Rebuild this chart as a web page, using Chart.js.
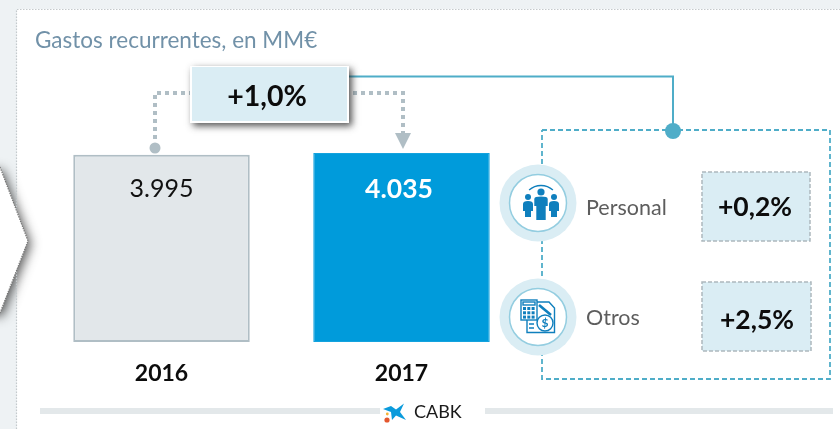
<!DOCTYPE html>
<html lang="es">
<head>
    <meta charset="UTF-8">
    <title>Gastos recurrentes</title>
    <script src="https://cdn.jsdelivr.net/npm/chart.js"></script>
    <style>
        html, body { margin: 0; padding: 0; background: #fff; }
        #wrap { position: relative; width: 840px; height: 429px; overflow: hidden; }
    </style>
</head>
<body>
    <div id="wrap"><canvas id="gastos" width="840" height="429"></canvas></div>
    <script>
        const years = ['2016', '2017'];
        const gastos = [3995, 4035];
        const gastosText = ['3.995', '4.035'];
        const title = 'Gastos recurrentes, en MM€';
        const totalChange = '+1,0%';
        const breakdownNames = ['Personal', 'Otros'];
        const breakdownChanges = ['+0,2%', '+2,5%'];

        const FONT = 'Lato, sans-serif';
        const TEAL = '#4fadc8';
        const PALE = '#daedf4';
        const GREY = '#b0bec5';
        const ICON = '#0f7fbd';

        function text(ctx, str, x, y, font, color, align) {
            ctx.font = font;
            ctx.fillStyle = color;
            ctx.textAlign = align || 'center';
            ctx.textBaseline = 'middle';
            ctx.fillText(str, x, y);
        }

        function dashedPath(ctx, pts, color, width, dash) {
            ctx.save();
            ctx.strokeStyle = color;
            ctx.lineWidth = width;
            ctx.setLineDash(dash);
            ctx.beginPath();
            pts.forEach((p, i) => i ? ctx.lineTo(p[0], p[1]) : ctx.moveTo(p[0], p[1]));
            ctx.stroke();
            ctx.restore();
        }

        function drawBackground(ctx) {
            // panel behind everything
            ctx.fillStyle = '#eef2f4';
            ctx.fillRect(0, 0, 840, 429);
            ctx.fillStyle = '#fff';
            ctx.fillRect(17, 9, 823, 420);

            // chevron coming in from the left, white with a soft shadow
            ctx.save();
            ctx.shadowColor = 'rgba(50,50,50,0.8)';
            ctx.shadowBlur = 11;
            ctx.shadowOffsetX = 3;
            ctx.shadowOffsetY = 3;
            ctx.fillStyle = '#fff';
            ctx.beginPath();
            ctx.moveTo(-20, 167);
            ctx.lineTo(0, 167);
            ctx.lineTo(28, 241);
            ctx.lineTo(0, 313);
            ctx.lineTo(-20, 313);
            ctx.closePath();
            ctx.fill();
            ctx.restore();

            dashedPath(ctx, [[16.5, 429], [16.5, 9.5], [840, 9.5]], '#c4c9cc', 1.2, [1.5, 1.5]);

            // white again over the panel border, inside the chevron
            ctx.fillStyle = '#fff';
            ctx.beginPath();
            ctx.moveTo(0, 167);
            ctx.lineTo(28, 241);
            ctx.lineTo(0, 313);
            ctx.closePath();
            ctx.fill();
            dashedPath(ctx, [[0, 167], [28, 241], [0, 313]], '#777', 1.2, [1.5, 1]);
        }

        function drawPeopleIcon(ctx, cx, cy) {
            ctx.fillStyle = ICON;
            ctx.strokeStyle = ICON;
            ctx.lineWidth = 1.4;
            ctx.beginPath();
            ctx.arc(cx, cy + 0.5, 18, Math.PI * 1.27, Math.PI * 1.73);
            ctx.stroke();
            // x offset, head y, head radius, half width, body bottom
            [[-13, -6, 3, 5, 14], [13, -6, 3, 5, 14], [0, -11, 3.6, 6.7, 17]].forEach(p => {
                const x = cx + p[0], y = cy + p[1], w = p[3];
                ctx.beginPath();
                ctx.arc(x, y, p[2], 0, Math.PI * 2);
                ctx.fill();
                ctx.beginPath();
                ctx.moveTo(x - w, y + 12);
                ctx.lineTo(x - w, y + 7);
                ctx.quadraticCurveTo(x - w, y + p[2] + 1, x, y + p[2] + 1);
                ctx.quadraticCurveTo(x + w, y + p[2] + 1, x + w, y + 7);
                ctx.lineTo(x + w, y + 14);
                ctx.lineTo(x + w - 2, y + 14);
                ctx.lineTo(x + w - 2, cy + p[4]);
                ctx.lineTo(x - w + 2, cy + p[4]);
                ctx.lineTo(x - w + 2, y + 14);
                ctx.lineTo(x - w, y + 14);
                ctx.closePath();
                ctx.fill();
            });
        }

        function drawOtrosIcon(ctx, cx, cy) {
            ctx.strokeStyle = ICON;
            ctx.lineWidth = 1.4;
            // paper
            ctx.beginPath();
            ctx.moveTo(cx - 6, cy - 15);
            ctx.lineTo(cx + 11, cy - 15);
            ctx.lineTo(cx + 16.5, cy - 9);
            ctx.lineTo(cx + 16.5, cy + 15.5);
            ctx.lineTo(cx - 11, cy + 15.5);
            ctx.lineTo(cx - 11, cy + 3);
            ctx.stroke();
            // calculator
            ctx.fillStyle = '#fff';
            ctx.fillRect(cx - 17, cy - 17, 16, 20);
            ctx.strokeRect(cx - 17, cy - 17, 16, 20);
            ctx.strokeRect(cx - 15, cy - 15, 12, 3);
            ctx.fillStyle = ICON;
            for (let r = 0; r < 3; r++) {
                for (let k = 0; k < 3; k++) {
                    ctx.fillRect(cx - 15 + k * 4.3, cy - 10 + r * 4.3, 3, 3);
                }
            }
            // pen
            ctx.lineWidth = 2.6;
            ctx.beginPath();
            ctx.moveTo(cx + 1, cy - 12);
            ctx.lineTo(cx + 13, cy - 2);
            ctx.stroke();
            ctx.lineWidth = 1.4;
            // coin
            ctx.fillStyle = '#fff';
            ctx.beginPath();
            ctx.arc(cx + 7, cy + 6, 8, 0, Math.PI * 2);
            ctx.fill();
            ctx.stroke();
            text(ctx, '$', cx + 7, cy + 6.5, 'bold 12px ' + FONT, ICON);
            // text lines on the paper
            ctx.beginPath();
            ctx.moveTo(cx - 9, cy + 7); ctx.lineTo(cx - 4, cy + 7);
            ctx.moveTo(cx - 9, cy + 11); ctx.lineTo(cx - 4, cy + 11);
            ctx.stroke();
        }

        function drawCaixaLogo(ctx) {
            ctx.fillStyle = '#0a9bdc';
            ctx.beginPath();
            ctx.moveTo(383, 409);
            ctx.lineTo(391, 406);
            ctx.lineTo(396, 409.5);
            ctx.lineTo(404, 403.5);
            ctx.lineTo(400, 412);
            ctx.lineTo(406, 420);
            ctx.lineTo(396, 415.5);
            ctx.lineTo(392, 420);
            ctx.lineTo(391, 412);
            ctx.closePath();
            ctx.fill();
            ctx.fillStyle = '#f5b335';
            ctx.beginPath(); ctx.arc(387.3, 414, 1.4, 0, Math.PI * 2); ctx.fill();
            ctx.fillStyle = '#e4572e';
            ctx.beginPath(); ctx.arc(387, 420, 2.6, 0, Math.PI * 2); ctx.fill();
        }

        const decorations = {
            id: 'decorations',
            beforeDraw(chart) {
                drawBackground(chart.ctx);
            },
            afterDatasetsDraw(chart) {
                const ctx = chart.ctx;
                const bars = chart.getDatasetMeta(0).data;

                // values inside the bars
                text(ctx, gastosText[0], bars[0].x, 189, '25px ' + FONT, '#111');
                text(ctx, gastosText[1], bars[1].x - 2.5, 189, 'bold 26.5px ' + FONT, '#fff');

                text(ctx, title, 35, 41, '22.5px ' + FONT, '#7191a8', 'left');

                // dotted connectors between the bars
                dashedPath(ctx, [[155, 147], [155, 93], [195, 93]], GREY, 4, [4, 4]);
                dashedPath(ctx, [[345, 93], [403, 93], [403, 134]], GREY, 4, [4, 4]);
                ctx.fillStyle = GREY;
                ctx.beginPath();
                ctx.arc(155, 148, 5.5, 0, Math.PI * 2);
                ctx.fill();
                ctx.beginPath();
                ctx.moveTo(395, 133);
                ctx.lineTo(411, 133);
                ctx.lineTo(403, 149);
                ctx.closePath();
                ctx.fill();

                // teal line and dashed box on the right
                ctx.strokeStyle = TEAL;
                ctx.lineWidth = 2;
                ctx.beginPath();
                ctx.moveTo(345, 76.5);
                ctx.lineTo(673, 76.5);
                ctx.lineTo(673, 130);
                ctx.stroke();
                dashedPath(ctx, [[542, 130], [830, 130], [830, 379], [542, 379], [542, 130]], TEAL, 1.8, [5, 3]);
                ctx.fillStyle = TEAL;
                ctx.beginPath();
                ctx.arc(673, 131, 8, 0, Math.PI * 2);
                ctx.fill();

                // +1,0% box
                ctx.save();
                ctx.shadowColor = 'rgba(40,40,40,0.8)';
                ctx.shadowBlur = 7;
                ctx.shadowOffsetX = 3;
                ctx.shadowOffsetY = 3;
                ctx.fillStyle = '#fff';
                ctx.fillRect(190, 66, 159, 57);
                ctx.restore();
                ctx.fillStyle = PALE;
                ctx.fillRect(192, 67, 155, 54);
                text(ctx, totalChange, 267, 97, 'bold 28.5px ' + FONT, '#0c0c0c');

                // breakdown rows
                const rows = [
                    { cy: 203, label: 208, box: [702, 172, 108, 69], val: 207, valX: 755 },
                    { cy: 317, label: 318, box: [702, 282, 109, 69], val: 320, valX: 757 }
                ];
                rows.forEach((r, i) => {
                    ctx.fillStyle = PALE;
                    ctx.beginPath();
                    ctx.arc(538, r.cy, 38.5, 0, Math.PI * 2);
                    ctx.fill();
                    ctx.fillStyle = '#fff';
                    ctx.strokeStyle = '#93cde0';
                    ctx.lineWidth = 1.5;
                    ctx.beginPath();
                    ctx.arc(538, r.cy, 28.5, 0, Math.PI * 2);
                    ctx.fill();
                    ctx.stroke();
                    if (i === 0) drawPeopleIcon(ctx, 541, r.cy);
                    else drawOtrosIcon(ctx, 538, r.cy);

                    text(ctx, breakdownNames[i], 586, r.label, '21.5px ' + FONT, '#5d5d5d', 'left');

                    ctx.fillStyle = PALE;
                    ctx.fillRect(r.box[0], r.box[1], r.box[2], r.box[3]);
                    ctx.save();
                    ctx.strokeStyle = '#adb8bd';
                    ctx.lineWidth = 1.5;
                    ctx.setLineDash([4, 2]);
                    ctx.strokeRect(r.box[0], r.box[1], r.box[2], r.box[3]);
                    ctx.restore();
                    text(ctx, breakdownChanges[i], r.valX, r.val, 'bold 26.5px ' + FONT, '#0c0c0c');
                });

                // bottom rule and source
                ctx.fillStyle = '#e3e8ea';
                ctx.fillRect(40, 408, 340, 6);
                ctx.fillRect(485, 408, 348, 6);
                drawCaixaLogo(ctx);
                text(ctx, 'CABK', 414, 412, '18px ' + FONT, '#1a1a1a', 'left');
            }
        };

        new Chart(document.getElementById('gastos').getContext('2d'), {
            type: 'bar',
            data: {
                labels: years,
                datasets: [{
                    data: gastos,
                    backgroundColor: ['#e2e7ea', '#009bdb'],
                    borderColor: ['#b0bec5', '#14a3de'],
                    borderWidth: [2, 1],
                    borderSkipped: false,
                    barPercentage: 176.5 / 240,
                    categoryPercentage: 1
                }]
            },
            options: {
                responsive: false,
                animation: false,
                layout: { padding: { left: 41.5, right: 318.5, top: 153, bottom: 0 } },
                plugins: { legend: { display: false }, tooltip: { enabled: false } },
                scales: {
                    x: {
                        grid: { display: false },
                        border: { display: false },
                        afterFit(scale) { scale.height = 87; },
                        ticks: {
                            color: '#0c0c0c',
                            padding: 10,
                            maxRotation: 0,
                            font: { family: FONT, size: 23, weight: 'bold' }
                        }
                    },
                    y: { display: false, min: 0, max: 4035 }
                }
            },
            plugins: [decorations]
        });
    </script>
</body>
</html>
